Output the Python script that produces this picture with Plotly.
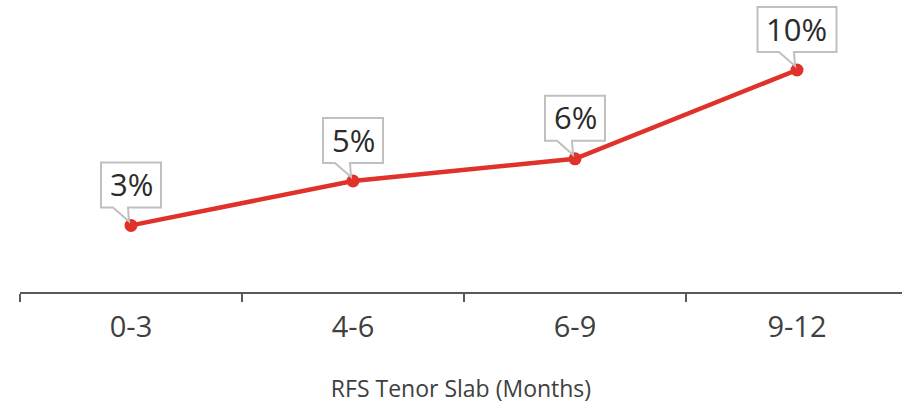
import plotly.graph_objects as go

categories = ["0-3", "4-6", "6-9", "9-12"]
values = [3, 5, 6, 10]
labels = ["3%", "5%", "6%", "10%"]
x_title = "RFS Tenor Slab (Months)"

RED = "#e0312a"
FONT = "Open Sans"

fig = go.Figure()
fig.add_trace(go.Scatter(
    x=categories, y=values, mode="lines+markers",
    line=dict(color=RED, width=4.5),
    marker=dict(color=RED, size=13),
    hoverinfo="skip", showlegend=False,
))

# callouts
for c, v, t in zip(categories, values, labels):
    w = 22 + 19 * len(t)
    left = -w / 2
    right = w / 2
    bottom = 18
    top = 63
    path = (f"M {left},{bottom} L {left},{top} L {right},{top} L {right},{bottom} "
            f"L {-3},{bottom} L {-2},{4} L {-18},{bottom} Z")
    fig.add_shape(type="path", xref="x", yref="y", xsizemode="pixel", ysizemode="pixel",
                  xanchor=c, yanchor=v, path=path,
                  line=dict(color="#c0c0c0", width=2), fillcolor="white", layer="above")
    fig.add_annotation(x=c, y=v, xref="x", yref="y", text=t, showarrow=False,
                       yshift=(top + bottom) / 2 + 1, font=dict(family=FONT, size=31, color="#2b2b2b"))

fig.update_layout(
    width=902, height=404,
    margin=dict(l=20, r=0, t=0, b=112, autoexpand=False),
    paper_bgcolor="white", plot_bgcolor="white",
    xaxis=dict(
        type="category", range=[-0.5, 3.473], tickson="boundaries", automargin=False,
        showline=True, linecolor="#595959", linewidth=2,
        ticks="outside", ticklen=8, tickwidth=2, tickcolor="#595959",
        showgrid=False, zeroline=False,
        tickfont=dict(family=FONT, size=29, color="#404040"),
        ticklabelstandoff=8,
        title=dict(text=x_title, font=dict(family=FONT, size=23, color="#404040"), standoff=37),
    ),
    yaxis=dict(range=[0, 292 / 22.2], visible=False, showgrid=False, zeroline=False),
)

fig.write_html("out.html", config={"displayModeBar": False},
               post_script="document.body.style.margin='0';document.body.style.overflow='hidden';")
